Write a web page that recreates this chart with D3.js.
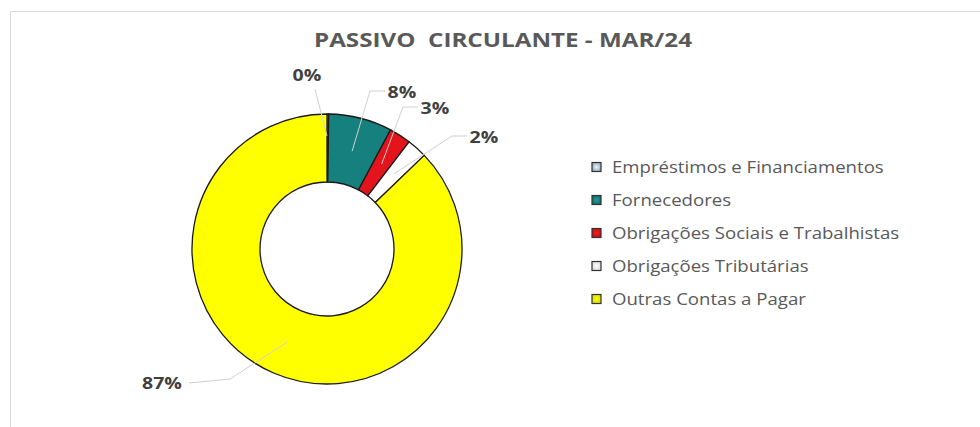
<!DOCTYPE html>
<html><head><meta charset="utf-8">
<script src="https://cdn.jsdelivr.net/npm/d3@7"></script>
<style>body{margin:0;background:#fff;}svg{display:block;}</style>
</head><body>
<svg id="c" width="980" height="427"></svg>
<script>
const title = "PASSIVO  CIRCULANTE - MAR/24";
const categories = ["Empréstimos e Financiamentos","Fornecedores","Obrigações Sociais e Trabalhistas","Obrigações Tributárias","Outras Contas a Pagar"];
const values = [0.2, 7.6, 2.6, 2.4, 87.2];
const labels = ["0%","8%","3%","2%","87%"];
const colors = ["#b8c8dc","#16807e","#e3141c","#ffffff","#ffff00"];

const svg = d3.select("#c");
const defs = svg.append("defs");
colors.forEach((c,i)=>{
  const gr = defs.append("radialGradient").attr("id","lg"+i);
  gr.append("stop").attr("offset","0%").attr("stop-color",d3.color(c).brighter(0.6));
  gr.append("stop").attr("offset","100%").attr("stop-color",d3.color(c).darker(0.4));
});
// frame
svg.append("line").attr("x1",10.5).attr("x2",980).attr("y1",11.5).attr("y2",11.5).attr("stroke","#d9d9d9");
svg.append("line").attr("x1",10.5).attr("x2",10.5).attr("y1",11.5).attr("y2",427).attr("stroke","#d9d9d9");

svg.append("text").attr("x",503).attr("y",47).attr("text-anchor","middle")
  .attr("font-family","Open Sans, Liberation Sans, sans-serif").attr("font-weight","bold")
  .attr("font-size",19).attr("fill","#595959").attr("textLength",378).attr("lengthAdjust","spacingAndGlyphs")
  .style("white-space","pre").text(title);

const cx = 327, cy = 249, R = 135, r = 67;
const pie = d3.pie().sort(null).value(d=>d);
const arcs = pie(values);
const arc = d3.arc().innerRadius(r).outerRadius(R);
const g = svg.append("g").attr("transform",`translate(${cx},${cy})`);
g.selectAll("path").data(arcs).join("path").attr("d",arc)
  .attr("fill",(d,i)=>colors[i]).attr("stroke","#1a1a1a").attr("stroke-width",1.3);

const stretch = 1.22;
function stretchText(t){
  const n = t.node(); const w = n.getComputedTextLength();
  t.attr("textLength", w*stretch).attr("lengthAdjust","spacingAndGlyphs");
}

// labels with leader lines
const labelPos = [[307,81],[402,98],[435,114],[484,143],[162,389]];
const midArc = d3.arc().innerRadius((r+R)/2).outerRadius((r+R)/2);
const lf = "Open Sans, Liberation Sans, sans-serif";
arcs.forEach((d,i)=>{
  const [mx,my] = midArc.centroid(d);
  const ax = cx+mx, ay = cy+my;
  const [lx,ly] = labelPos[i];
  let pts;
  if (i===4) pts = [[lx+27,ly-6],[lx+68,ly-10],[ax,ay]];
  else if (i===0) { const a=d.startAngle; pts=[[lx+8,ly+8],[cx+Math.sin(a)*(R-2),cy-Math.cos(a)*(R-2)+20]]; }
  else pts = [[lx-17,ly-7],[lx-32,ly-7],[ax,ay]];
  svg.append("path").attr("d",d3.line()(pts)).attr("fill","none").attr("stroke","#d0d0d0").attr("stroke-width",1);
  const t = svg.append("text").attr("x",lx).attr("y",ly).attr("text-anchor","middle")
    .attr("font-family",lf).attr("font-weight","bold").attr("font-size",16).attr("fill","#404040").text(labels[i]);
  stretchText(t);
});

// legend
const lg = svg.append("g");
categories.forEach((c,i)=>{
  const y = 167 + i*33;
  lg.append("rect").attr("x",592).attr("y",y-4.5).attr("width",9).attr("height",9)
    .attr("fill",`url(#lg${i})`).attr("stroke","#333").attr("stroke-width",1.2);
  const t = lg.append("text").attr("x",612).attr("y",y+5.5).attr("font-family",lf).attr("font-size",15.5)
    .attr("fill","#595959").text(c);
  t.attr("textLength", t.node().getComputedTextLength()*1.2).attr("lengthAdjust","spacingAndGlyphs");
});
</script>
</body></html>
